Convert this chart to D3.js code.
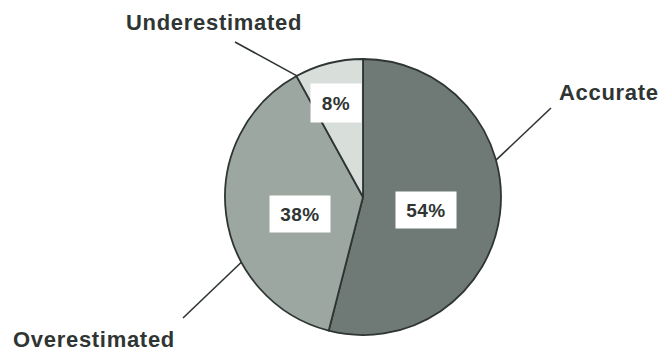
<!DOCTYPE html>
<html>
<head>
<meta charset="utf-8">
<script src="https://cdn.jsdelivr.net/npm/d3@7"></script>
<style>
  html, body { margin: 0; padding: 0; background: #ffffff; }
  svg { display: block; }
  text { font-family: "Liberation Sans", Arial, Helvetica, sans-serif; font-weight: bold; fill: #2f3533; }
</style>
</head>
<body>
<svg id="chart" width="661" height="353"></svg>
<script>
// Estimate accuracy breakdown
const categories = ["Accurate", "Overestimated", "Underestimated"];
const values = [54, 38, 8];
const valueLabels = ["54%", "38%", "8%"];
const fills = ["#6f7a76", "#9ca7a1", "#d8dfda"];

// Layout for the value boxes (offset of box centre from pie centre, box size)
const boxLayout = [
  { dx: 63, dy: 13, w: 61, h: 37 },
  { dx: -63, dy: 17, w: 61, h: 37 },
  { dx: -27, dy: -94, w: 51, h: 39 }
];
// Layout for the category callouts: angle on the rim where the leader starts,
// leader end point and text anchor point (relative to pie centre)
const calloutLayout = [
  { rimAngle: 74.5, lx: 188, ly: -89, tx: 196, ty: -97 },
  { rimAngle: 241.8, lx: -180, ly: 121, tx: -350, ty: 150 },
  { rimAngle: 331.4, lx: -128, ly: -155, tx: -237, ty: -167 }
];

const cx = 363, cy = 197, radius = 138;
const svg = d3.select("#chart");
const g = svg.append("g").attr("transform", `translate(${cx},${cy})`);

const pie = d3.pie().sort(null).value(d => d)(values);
const arc = d3.arc().innerRadius(0).outerRadius(radius);

// Slices
g.selectAll("path.slice")
  .data(pie)
  .join("path")
  .attr("class", "slice")
  .attr("d", arc)
  .attr("fill", (d, i) => fills[i])
  .attr("stroke", "#2e3533")
  .attr("stroke-width", 1.8)
  .attr("stroke-linejoin", "round");

// Leader lines
const rad = a => a * Math.PI / 180;
g.selectAll("line.leader")
  .data(calloutLayout)
  .join("line")
  .attr("class", "leader")
  .attr("x1", d => radius * Math.sin(rad(d.rimAngle)))
  .attr("y1", d => -radius * Math.cos(rad(d.rimAngle)))
  .attr("x2", d => d.lx)
  .attr("y2", d => d.ly)
  .attr("stroke", "#2e3533")
  .attr("stroke-width", 1.6);

// Category names
g.selectAll("text.cat")
  .data(categories)
  .join("text")
  .attr("class", "cat")
  .attr("x", (d, i) => calloutLayout[i].tx)
  .attr("y", (d, i) => calloutLayout[i].ty)
  .attr("font-size", 22)
  .attr("letter-spacing", 0.7)
  .text(d => d);

// Value boxes
const boxes = g.selectAll("g.valbox")
  .data(valueLabels)
  .join("g")
  .attr("class", "valbox")
  .attr("transform", (d, i) => `translate(${boxLayout[i].dx},${boxLayout[i].dy})`);

boxes.append("rect")
  .attr("x", (d, i) => -boxLayout[i].w / 2)
  .attr("y", (d, i) => -boxLayout[i].h / 2)
  .attr("width", (d, i) => boxLayout[i].w)
  .attr("height", (d, i) => boxLayout[i].h)
  .attr("fill", "#ffffff");

boxes.append("text")
  .attr("text-anchor", "middle")
  .attr("dy", "0.36em")
  .attr("font-size", 19)
  .attr("letter-spacing", 0.5)
  .text(d => d);
</script>
</body>
</html>
